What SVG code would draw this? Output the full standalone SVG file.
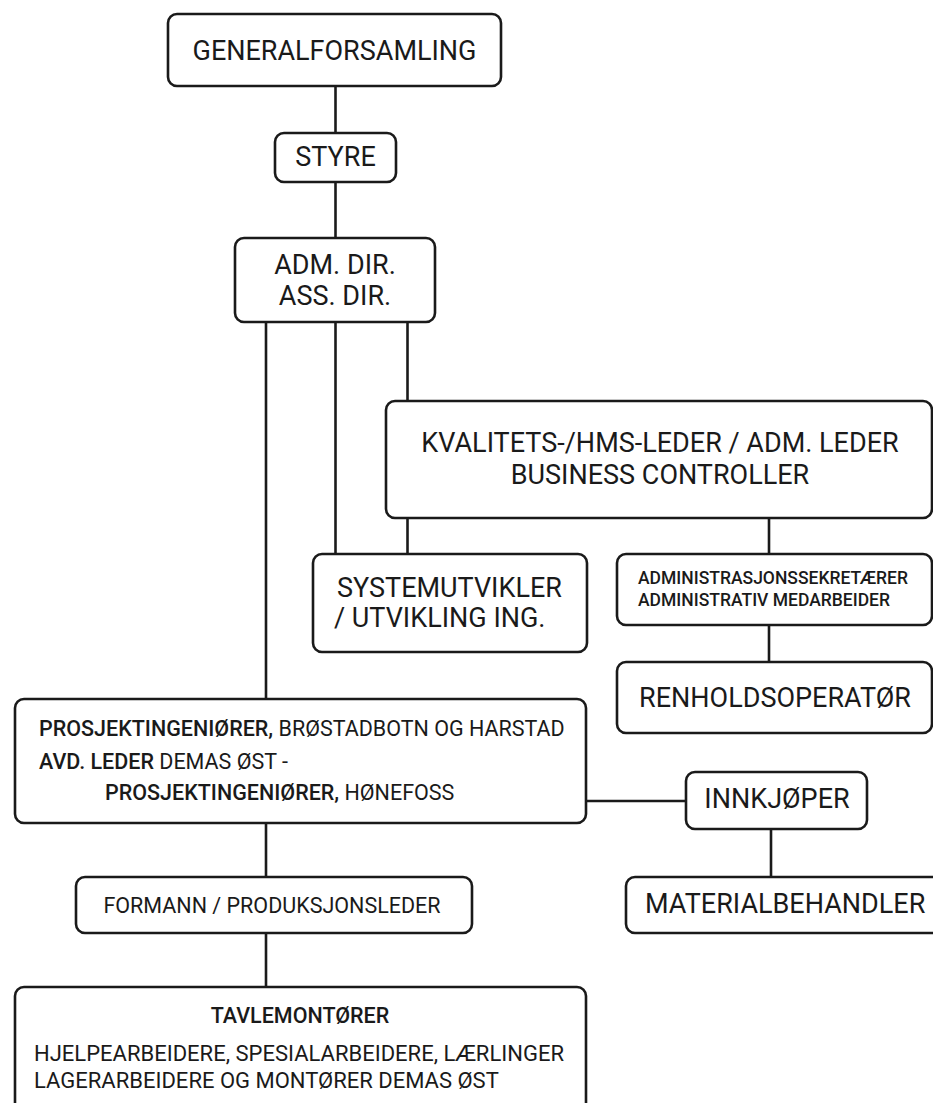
<svg xmlns="http://www.w3.org/2000/svg" width="933" height="1103" viewBox="0 0 933 1103">
<style>
.box{fill:#fff;stroke:#1a1a1a;stroke-width:2.6}
.ln{stroke:#1a1a1a;stroke-width:2.6;fill:none}
text{font-family:Roboto,"Liberation Sans",sans-serif;fill:#1a1a1a}
.big{font-size:27px}
.mid{font-size:21.5px}
.sm{font-size:17.5px;font-weight:500}
.b{font-weight:500}
.c{text-anchor:middle}
</style>
<rect width="933" height="1103" fill="#fff"/>
<g id="connectors">
<line class="ln" x1="335.5" y1="86" x2="335.5" y2="133"/>
<line class="ln" x1="335.5" y1="182" x2="335.5" y2="238"/>
<line class="ln" x1="266" y1="322" x2="266" y2="699"/>
<line class="ln" x1="335.5" y1="322" x2="335.5" y2="554"/>
<line class="ln" x1="407.5" y1="322" x2="407.5" y2="401"/>
<line class="ln" x1="407.5" y1="518" x2="407.5" y2="554"/>
<line class="ln" x1="769" y1="518" x2="769" y2="554"/>
<line class="ln" x1="769" y1="625" x2="769" y2="662"/>
<line class="ln" x1="586" y1="801" x2="686" y2="801"/>
<line class="ln" x1="771" y1="829" x2="771" y2="877"/>
<line class="ln" x1="266" y1="823" x2="266" y2="877"/>
<line class="ln" x1="266" y1="933" x2="266" y2="987"/>
</g>
<g id="generalforsamling">
<rect class="box" x="168" y="14" width="333" height="72" rx="9"/>
<text class="big c" x="334.5" y="60">GENERALFORSAMLING</text>
</g>
<g id="styre">
<rect class="box" x="275" y="133" width="121" height="49" rx="9"/>
<text class="big c" x="335.5" y="166">STYRE</text>
</g>
<g id="adm-dir">
<rect class="box" x="235" y="238" width="200" height="84" rx="9"/>
<text class="big c" x="335" y="274">ADM. DIR.</text>
<text class="big c" x="335" y="305">ASS. DIR.</text>
</g>
<g id="kvalitet">
<rect class="box" x="386" y="401" width="546" height="117" rx="9"/>
<text class="big c" x="660" y="452">KVALITETS-/HMS-LEDER / ADM. LEDER</text>
<text class="big c" x="660" y="484">BUSINESS CONTROLLER</text>
</g>
<g id="systemutvikler">
<rect class="box" x="313" y="554" width="274" height="98" rx="9"/>
<text class="big" x="337" y="597">SYSTEMUTVIKLER</text>
<text class="big" x="334" y="627">/ UTVIKLING ING.</text>
</g>
<g id="administrasjon">
<rect class="box" x="617" y="554" width="315" height="71" rx="9"/>
<text class="sm" x="638" y="584">ADMINISTRASJONSSEKRETÆRER</text>
<text class="sm" x="638" y="606">ADMINISTRATIV MEDARBEIDER</text>
</g>
<g id="renhold">
<rect class="box" x="617" y="662" width="315" height="71" rx="9"/>
<text class="big c" x="775" y="707">RENHOLDSOPERATØR</text>
</g>
<g id="prosjekt">
<rect class="box" x="15" y="699" width="571" height="124" rx="9"/>
<text class="mid" x="39" y="736"><tspan class="b">PROSJEKTINGENIØRER,</tspan> BRØSTADBOTN OG HARSTAD</text>
<text class="mid" x="39" y="769"><tspan class="b">AVD. LEDER</tspan> DEMAS ØST -</text>
<text class="mid" x="105" y="800"><tspan class="b">PROSJEKTINGENIØRER,</tspan> HØNEFOSS</text>
</g>
<g id="innkjoper">
<rect class="box" x="686" y="772" width="181" height="57" rx="9"/>
<text class="big c" x="777" y="808">INNKJØPER</text>
</g>
<g id="materialbehandler">
<rect class="box" x="626" y="877" width="320" height="56" rx="9"/>
<text class="big" x="645" y="913">MATERIALBEHANDLER</text>
</g>
<g id="formann">
<rect class="box" x="76" y="877" width="396" height="56" rx="9"/>
<text class="mid c" x="272" y="913">FORMANN / PRODUKSJONSLEDER</text>
</g>
<g id="tavlemontorer">
<rect class="box" x="15" y="987" width="571" height="130" rx="9"/>
<text class="mid b c" x="300" y="1023">TAVLEMONTØRER</text>
<text class="mid" x="34" y="1061" style="font-size:22px">HJELPEARBEIDERE, SPESIALARBEIDERE, LÆRLINGER</text>
<text class="mid" x="34" y="1088" style="font-size:22px">LAGERARBEIDERE OG MONTØRER DEMAS ØST</text>
</g>
</svg>
